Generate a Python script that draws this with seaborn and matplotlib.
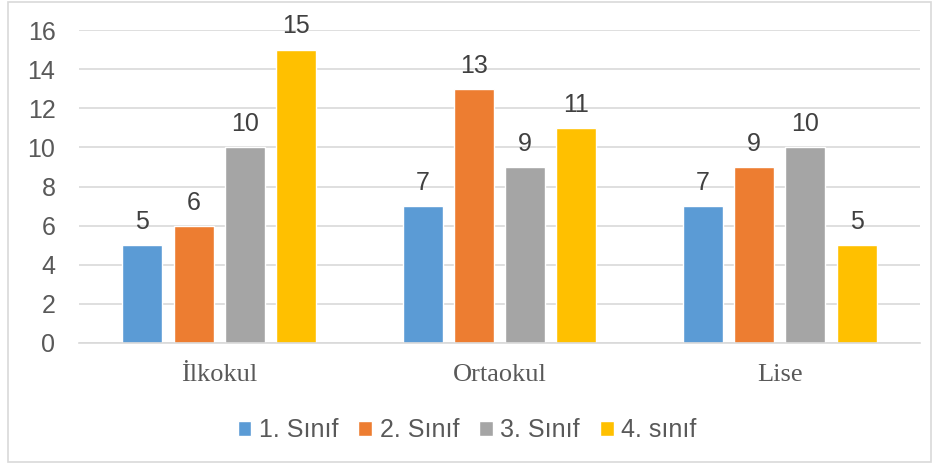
import pandas as pd
import matplotlib.pyplot as plt
import seaborn as sns
from matplotlib.patches import Rectangle

categories = ["İlkokul", "Ortaokul", "Lise"]
series = ["1. Sınıf", "2. Sınıf", "3. Sınıf", "4. sınıf"]
values = {
    "1. Sınıf": [5, 7, 7],
    "2. Sınıf": [6, 13, 9],
    "3. Sınıf": [10, 9, 10],
    "4. sınıf": [15, 11, 5],
}
colors = ["#5B9BD5", "#ED7D31", "#A5A5A5", "#FFC000"]


def main():
    rows = []
    for s in series:
        for c, v in zip(categories, values[s]):
            rows.append({"okul": c, "sinif": s, "deger": v})
    data = pd.DataFrame(rows)

    sns.set_style("white")
    plt.rcParams["font.family"] = ["Liberation Sans", "DejaVu Sans"]

    fig = plt.figure(figsize=(9.39, 4.68), dpi=100)
    ax = fig.add_axes([79 / 939, 125 / 468, 841 / 939, 313 / 468])
    sns.barplot(data=data, x="okul", y="deger", hue="sinif", order=categories,
                hue_order=series, palette=colors, width=0.73, gap=0.22,
                saturation=1, ax=ax, legend=True)

    for cont in ax.containers:
        ax.bar_label(cont, padding=8, fontsize=18, color="#404040")

    ax.set_ylim(0, 16)
    ax.set_xlim(-0.5, 2.5)
    ax.set_yticks(range(0, 17, 2))
    ax.yaxis.grid(True, color="#d9d9d9", linewidth=1.2)
    ax.set_axisbelow(True)
    for side in ["left", "right", "top"]:
        ax.spines[side].set_visible(False)
    ax.spines["bottom"].set_color("#d9d9d9")
    ax.spines["bottom"].set_linewidth(1.2)
    ax.set_xlabel("")
    ax.set_ylabel("")
    ax.tick_params(axis="y", labelsize=18, labelcolor="#595959", length=0, pad=17)
    ax.tick_params(axis="x", length=0, pad=15)
    for lbl in ax.get_xticklabels():
        lbl.set_fontfamily(["Liberation Serif", "DejaVu Serif"])
        lbl.set_fontsize(19)
        lbl.set_color("#595959")

    ax.legend(loc="center", bbox_to_anchor=(467 / 939, 38 / 468),
              bbox_transform=fig.transFigure, ncol=4, frameon=False,
              fontsize=18, labelcolor="#595959", handlelength=0.55,
              handleheight=0.55, handletextpad=0.3, columnspacing=0.8)

    fig.patches.append(Rectangle((8 / 939, 6 / 468), 923 / 939, 460 / 468,
                                 transform=fig.transFigure, fill=False,
                                 edgecolor="#d9d9d9", linewidth=1.2))
    fig.savefig("out.png", dpi=100)


if __name__ == '__main__':
    main()
